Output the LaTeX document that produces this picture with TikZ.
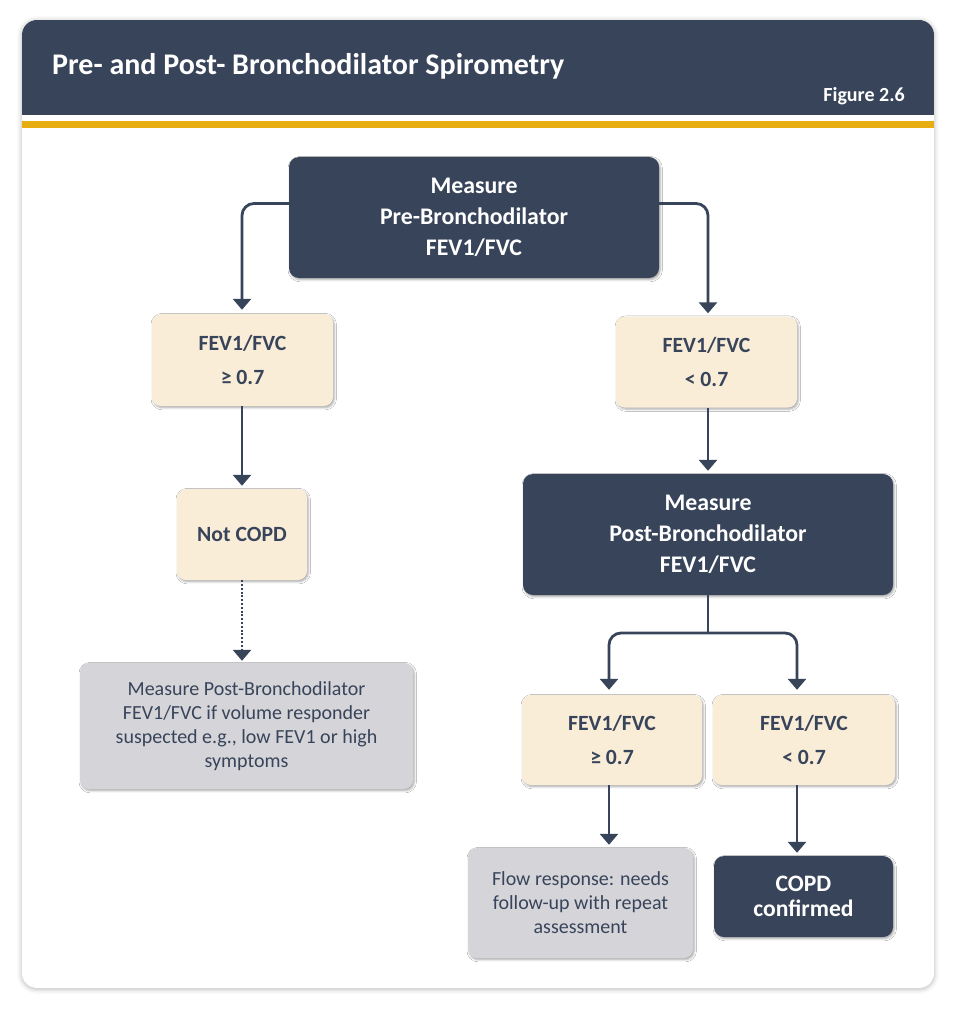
\documentclass[tikz,border=0pt]{standalone}
\usepackage{fontspec}
\setmainfont{Carlito}
\usetikzlibrary{arrows.meta,shadows.blur,calc}
\definecolor{navy}{HTML}{38445A}
\definecolor{cream}{HTML}{FAEDD8}
\definecolor{greybox}{HTML}{D4D4D9}
\definecolor{gold}{HTML}{E8AD10}
\tikzset{
  boxshadow/.style={blur shadow={shadow xshift=1.2pt, shadow yshift=-1.6pt, shadow blur radius=2.2pt, shadow opacity=35}},
  darkbox/.style={boxshadow, fill=navy, rounded corners=10pt, inner sep=0pt, align=center, text=white,
    font=\fontsize{23.8}{31}\selectfont\bfseries},
  creambox/.style={boxshadow, fill=cream, rounded corners=9pt, inner sep=0pt, align=center, text=navy,
    font=\fontsize{21.7}{34}\selectfont\bfseries},
  greyb/.style={boxshadow, fill=greybox, rounded corners=9pt, inner sep=0pt, align=center, text=navy,
    font=\fontsize{20}{24}\selectfont},
  conn/.style={draw=navy, line width=2.8pt, -{Triangle[width=18pt,length=11pt]}, rounded corners=12pt},
  dotconn/.style={draw=navy, line width=2.6pt, dash pattern=on 2pt off 1.8pt, -{Triangle[width=18pt,length=11pt]}},
}
\begin{document}
\begin{tikzpicture}[x=1pt,y=-1pt]
\useasboundingbox (0,0) rectangle (960,1011);
% card
\fill[white, blur shadow={shadow xshift=0pt, shadow yshift=-1pt, shadow blur radius=5pt, shadow opacity=30}, rounded corners=15pt] (22,20) rectangle (934,988);
\begin{scope}
\clip[rounded corners=15pt] (22,20) rectangle (934,988);
\fill[navy] (22,20) rectangle (934,115);
\fill[gold] (22,121) rectangle (934,128);
\end{scope}
\node[anchor=west, inner sep=0pt, text=white, font=\fontsize{30}{34}\selectfont\bfseries] (title) at (52,66) {Pre- and Post- Bronchodilator Spirometry};
\node[anchor=east, inner sep=0pt, text=white, font=\fontsize{20}{23}\selectfont\bfseries] (fig) at (905,96) {Figure 2.6};

% nodes
\node[darkbox, minimum width=370pt, minimum height=121pt] (m1) at (474,217.5) {Measure\\Pre-Bronchodilator\\FEV1/FVC};
\node[creambox, minimum width=181pt, minimum height=92pt] (l1) at (242.5,360) {FEV1/FVC\\≥ 0.7};
\node[creambox, minimum width=181pt, minimum height=91pt] (r1) at (706.5,362) {FEV1/FVC\\< 0.7};
\node[creambox, minimum width=130pt, minimum height=91pt] (nc) at (242,534.5) {Not COPD};
\node[greyb, minimum width=333pt, minimum height=126pt] (gb) at (246.5,726) {Measure Post-Bronchodilator\\FEV1/FVC if volume responder\\suspected e.g., low FEV1 or high\\symptoms};
\node[darkbox, minimum width=370pt, minimum height=121pt] (m2) at (708,534.5) {Measure\\Post-Bronchodilator\\FEV1/FVC};
\node[creambox, minimum width=180pt, minimum height=90pt] (l2) at (612,740) {FEV1/FVC\\≥ 0.7};
\node[creambox, minimum width=182pt, minimum height=90pt] (r2) at (804,740) {FEV1/FVC\\< 0.7};
\node[greyb, minimum width=225pt, minimum height=110pt] (fb) at (580.5,903) {Flow response: needs\\follow-up with repeat\\assessment};
\node[darkbox, minimum width=179pt, minimum height=81pt, font=\fontsize{23.6}{25}\selectfont\bfseries] (cc) at (803.5,896.5) {COPD\\confirmed};

% connector anchors
\coordinate (lx) at (242,0);
\coordinate (rx) at (708,0);
\coordinate (br) at (708,633);
\coordinate (blx) at (609,0);
\coordinate (brx) at (797,0);

\draw[conn] ([yshift=14pt]m1.west) -| ([yshift=4pt]lx |- l1.north);
\draw[conn] ([yshift=14pt]m1.east) -| ([yshift=3pt]rx |- r1.north);
\draw[conn] (lx |- l1.south) -- ([yshift=3pt]lx |- nc.north);
\draw[dotconn] (lx |- nc.south) -- ([yshift=2pt]lx |- gb.north);
\draw[conn] (rx |- r1.south) -- ([yshift=3pt]rx |- m2.north);
\draw[draw=navy, line width=2.8pt] (m2.south) -- (br);
\draw[conn] (br) -| ([yshift=5pt]blx |- l2.north);
\draw[conn] (br) -| ([yshift=5pt]brx |- r2.north);
\draw[conn] (blx |- l2.south) -- ([yshift=3pt]blx |- fb.north);
\draw[conn] (brx |- r2.south) -- ([yshift=3pt]brx |- cc.north);
\end{tikzpicture}
\end{document}
